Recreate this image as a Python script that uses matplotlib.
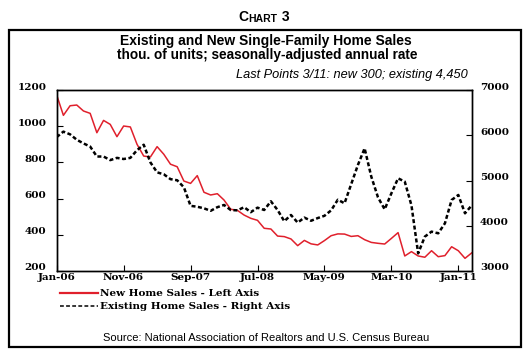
import matplotlib.pyplot as plt
import numpy as np
from matplotlib.lines import Line2D
from matplotlib.patches import Rectangle
from matplotlib.transforms import ScaledTranslation

# monthly, Jan-06 .. Mar-11
tick_labels = ['Jan-06', 'Nov-06', 'Sep-07', 'Jul-08', 'May-09', 'Mar-10', 'Jan-11']
new_sales = [1172, 1060, 1113, 1117, 1084, 1071, 964, 1032, 1010, 942,
             1001, 996, 900, 835, 830, 887, 845, 790, 776, 697,
             684, 727, 635, 620, 627, 592, 541, 535, 509, 491,
             480, 436, 432, 393, 390, 377, 340, 369, 350, 344,
             368, 395, 405, 404, 391, 395, 373, 358, 353, 349,
             380, 412, 283, 307, 283, 276, 312, 279, 285, 334,
             312, 270, 300]
existing_sales = [5960, 6080, 6020, 5900, 5820, 5750, 5530, 5530, 5450, 5500,
                  5475, 5500, 5670, 5790, 5400, 5180, 5137, 5030, 5005, 4850,
                  4440, 4420, 4385, 4330, 4410, 4459, 4348, 4340, 4410, 4300,
                  4400, 4348, 4540, 4348, 4100, 4238, 4070, 4180, 4110, 4170,
                  4220, 4340, 4575, 4496, 4920, 5343, 5711, 5085, 4628, 4363,
                  4716, 5048, 4975, 4450, 3390, 3760, 3870, 3833, 4054, 4569,
                  4680, 4275, 4450]

W, H = 532, 362
plt.rcParams['font.family'] = ['Liberation Sans', 'DejaVu Sans']
serif = {'family': 'DejaVu Serif', 'weight': 'bold', 'size': 7.5}

fig = plt.figure(figsize=(W / 100, H / 100), dpi=100)
ax = fig.add_axes([56.7 / W, 1 - 271 / H, 415 / W, 181 / H])

x = np.arange(len(new_sales))
red_line, = ax.plot(x, new_sales, color='#e0202c', lw=1.1)
ax.set_xlim(0, len(new_sales) - 1)
ax.set_ylim(200, 1200)
ax.set_yticks([200, 400, 600, 800, 1000, 1200])
ax.set_xticks(x[::10])
ax.set_xticklabels(tick_labels)

ax2 = ax.twinx()
blk_line, = ax2.plot(x, existing_sales, color='black', lw=1.8, linestyle=(0, (1.6, 1.0)))
ax2.set_ylim(3000, 7000)
ax2.set_yticks([3000, 4000, 5000, 6000, 7000])

ax.tick_params(axis='x', direction='in', length=4, width=0.8, pad=1.5)
ax.tick_params(axis='y', direction='in', length=4, width=0.8, pad=7.5)
ax2.tick_params(axis='y', direction='in', length=4, width=0.8, pad=6)
# y labels sit a little above their ticks in the original
lift = ScaledTranslation(0, 4 / 100, fig.dpi_scale_trans)
for a in (ax, ax2):
    for lab in a.get_xticklabels() + a.get_yticklabels():
        lab.set_fontproperties(serif)
    for lab in a.get_yticklabels():
        lab.set_transform(lab.get_transform() + lift)
    for s in a.spines.values():
        s.set_linewidth(1.0)

# outer frame
fig.add_artist(Rectangle((8.5 / W, 1 - 347 / H), 512.5 / W, 317 / H,
                         transform=fig.transFigure, fill=False, lw=1.6, color='black'))

# "CHART 3" in small caps
t1 = fig.text(238.5 / W, 1 - 21 / H, 'C', fontsize=10, weight='bold', va='baseline')
a2 = fig.add_artist(plt.Annotation('HART', xy=(1, 0), xycoords=t1, va='bottom', ha='left',
                                   fontsize=7.5, weight='bold'))
fig.add_artist(plt.Annotation(' 3', xy=(1, 0), xycoords=a2, va='bottom', ha='left',
                              fontsize=10, weight='bold'))

fig.text(266 / W, 1 - 41 / H, 'Existing and New Single-Family Home Sales',
         ha='center', va='center', fontsize=10, weight='bold')
fig.text(267 / W, 1 - 55 / H, 'thou. of units; seasonally-adjusted annual rate',
         ha='center', va='center', fontsize=9.8, weight='bold')
fig.text(468 / W, 1 - 75 / H, 'Last Points 3/11: new 300; existing 4,450',
         ha='right', va='center', fontsize=9.2, style='italic')

leg_red = Line2D([], [], color='#e0202c', lw=1.6)
leg_blk = Line2D([], [], color='black', lw=1.1, linestyle=(0, (2.5, 1.5)))
fig.legend([leg_red, leg_blk],
           ['New Home Sales - Left Axis', 'Existing Home Sales - Right Axis'],
           loc='upper left', bbox_to_anchor=(60 / W, 1 - 289 / H),
           frameon=False, prop=serif, handlelength=3.6, handletextpad=0.2,
           borderpad=0, borderaxespad=0, labelspacing=0.35)

fig.text(103 / W, 1 - 338 / H,
         'Source: National Association of Realtors and U.S. Census Bureau',
         ha='left', va='center', fontsize=8)

fig.savefig('out.png', dpi=100)
